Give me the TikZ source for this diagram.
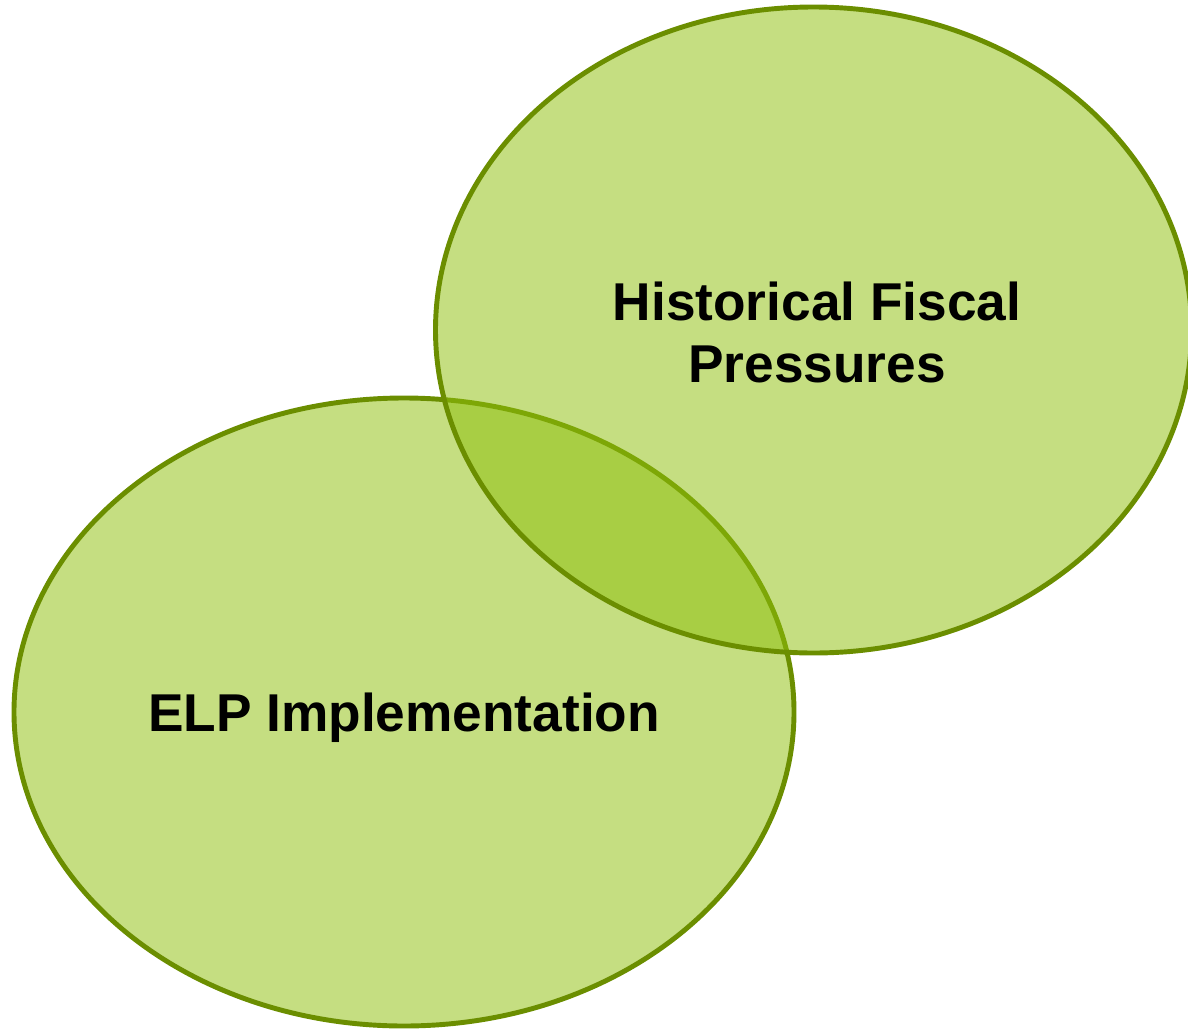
\documentclass[tikz,border=0pt]{standalone}
\usepackage{fontspec}
\setmainfont{Liberation Sans}
\usetikzlibrary{positioning}
\definecolor{leafgreen}{RGB}{143,191,13}
\definecolor{rimgreen}{RGB}{107,142,0}
\tikzset{
  setfill/.style={fill=leafgreen,fill opacity=0.52,draw=rimgreen,line width=2.8pt},
  setlabel/.style={font=\fontsize{30.3}{35.3}\selectfont\bfseries,align=center,text=black}
}
\begin{document}
\begin{tikzpicture}
    \useasboundingbox (0,0) rectangle (23.76,-20.58);
    % the two sets
    \draw[setfill] (8.08,-14.24) ellipse (7.8 and 6.28);
    \draw[setfill] (16.27,-6.6) ellipse (7.56 and 6.46);
    % labels
    \node[setlabel] (fiscal) at (16.34,-6.64) {Historical Fiscal\\Pressures};
    \node[setlabel] (elp) at (8.08,-14.36) {ELP Implementation};
\end{tikzpicture}
\end{document}
